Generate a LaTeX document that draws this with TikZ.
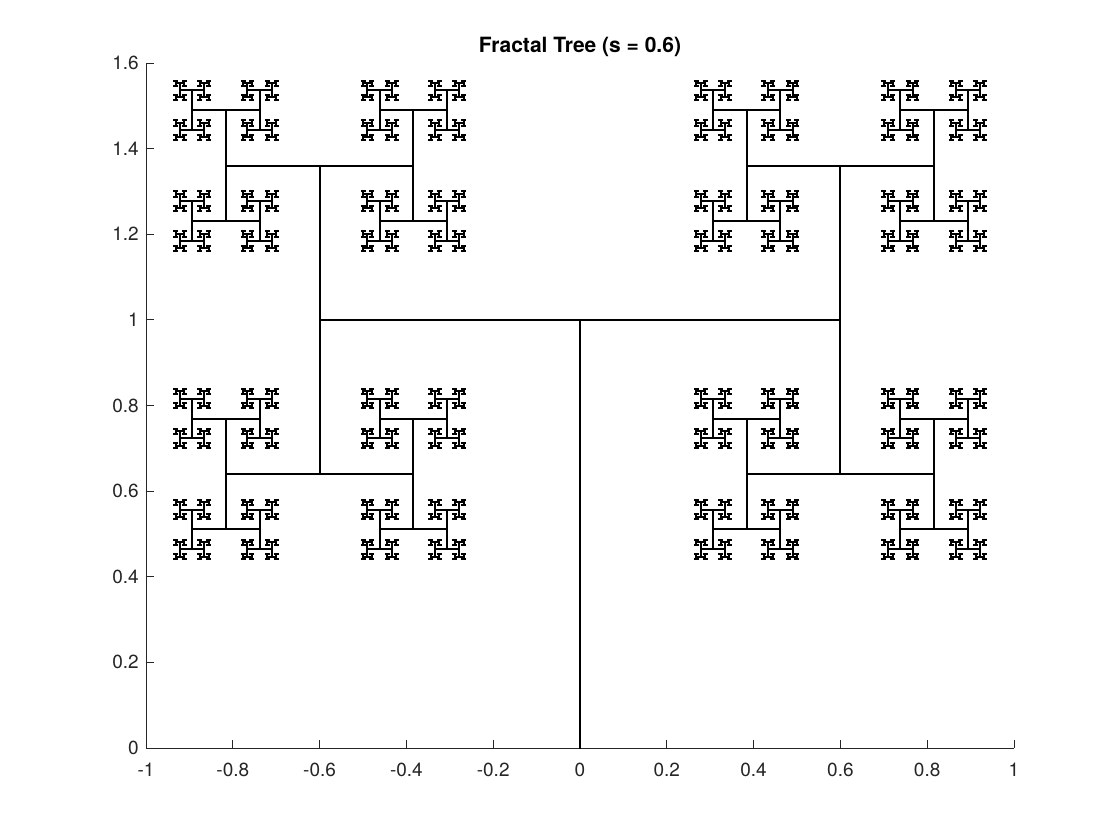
\documentclass[tikz,border=0pt]{standalone}
\usepackage{fontspec}
\setmainfont{TeX Gyre Heros}
\usepackage{tikz}
\usetikzlibrary{positioning}

% one branch of the H-tree: x, y, half length, levels left
\newcommand\hbranch[4]{%
  \ifnum#4>0
    \begingroup
      \pgfmathsetmacro\bleft{#1-#3}\pgfmathsetmacro\bright{#1+#3}\pgfmathsetmacro\bnext{0.6*#3}%
      \draw[tree] (\bleft,#2) -- (\bright,#2);
      \edef\bgo{\noexpand\vbranch{\bleft}{#2}{\bnext}{\the\numexpr#4-1\relax}%
        \noexpand\vbranch{\bright}{#2}{\bnext}{\the\numexpr#4-1\relax}}%
      \bgo
    \endgroup
  \fi}
\newcommand\vbranch[4]{%
  \ifnum#4>0
    \begingroup
      \pgfmathsetmacro\bdown{#2-#3}\pgfmathsetmacro\bup{#2+#3}\pgfmathsetmacro\bnext{0.6*#3}%
      \draw[tree] (#1,\bdown) -- (#1,\bup);
      \edef\bgo{\noexpand\hbranch{#1}{\bdown}{\bnext}{\the\numexpr#4-1\relax}%
        \noexpand\hbranch{#1}{\bup}{\bnext}{\the\numexpr#4-1\relax}}%
      \bgo
    \endgroup
  \fi}

\begin{document}
\begin{tikzpicture}[
    x=434pt, y=428.125pt,
    tree/.style={draw=black, line width=2pt, line cap=rect},
    axisline/.style={draw=black!85, line width=0.9pt},
    ticklabel/.style={inner sep=0pt, text=black!85, font=\fontsize{19}{22}\selectfont},
    titlelabel/.style={inner sep=0pt, text=black, font=\fontsize{21}{24}\selectfont\bfseries}
]
\useasboundingbox[fill=white] (-580pt,-92pt) rectangle (540pt,748pt);

% Axes
\draw[axisline] (-1,1.6) -- (-1,0) -- (1,0);
\foreach \xv [count=\i] in {-1,-0.8,-0.6,-0.4,-0.2,0,0.2,0.4,0.6,0.8,1} {
  \draw[axisline] (\xv,0) -- ++(0,8pt);
  \node[ticklabel, anchor=north] (xtick-\i) at ([yshift=-15pt]\xv,0) {\xv};
}
\foreach \yv [count=\i] in {0,0.2,0.4,0.6,0.8,1,1.2,1.4,1.6} {
  \draw[axisline] (-1,\yv) -- ++(8pt,0);
  \node[ticklabel, anchor=east] (ytick-\i) at ([xshift=-7pt]-1,\yv) {\yv};
}

% Title
\node[titlelabel] (title) at ([yshift=701pt]0,0) {Fractal Tree (s = 0.6)};

% Tree
\coordinate (root) at (0,0);
\coordinate (fork) at (0,1);
\draw[tree] (root) -- (fork);
\hbranch{0}{1}{0.6}{11}

\end{tikzpicture}
\end{document}
